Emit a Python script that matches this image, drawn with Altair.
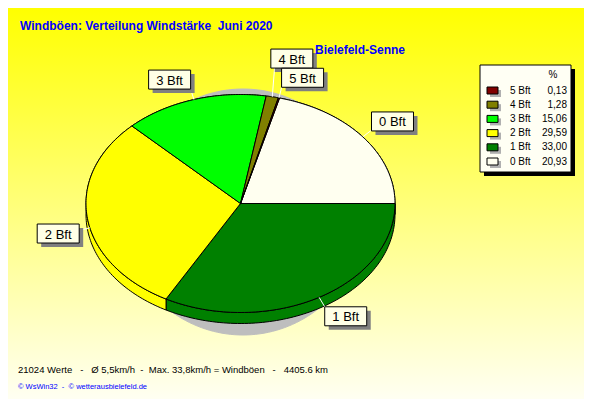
import altair as alt
import pandas as pd

# ---------------- data ----------------
categories = ["0 Bft", "1 Bft", "2 Bft", "3 Bft", "4 Bft", "5 Bft"]
percent = [20.93, 33.00, 29.59, 15.06, 1.28, 0.13]
colors = ["#FFFFF0", "#008000", "#FFFF00", "#00FF00", "#808000", "#800000"]

title_text = "Windböen: Verteilung Windstärke  Juni 2020"
station_text = "Bielefeld-Senne"
legend_header = "%"
footer_text = "21024 Werte   -   Ø 5,5km/h  -  Max. 33,8km/h = Windböen   -   4405.6 km"
credit_text = "© WsWin32  -  © wetterausbielefeld.de"

NB = "\u00a0"


def keep_spaces(s):
    return s.replace(" ", NB)


# ---------------- layout constants (image pixel coordinates) ----------------
OFF = 8
W, H = 576, 391
CX, CY, RX, RY, DEPTH = 240.5, 203.5, 154.5, 109.0, 11.0
N = 90
SH_CX, SH_CY, SH_RX, SH_RY = 243.0, 212.0, 122.0, 123.0
ARROW = 11
PUSH_Y = {"4 Bft": 18}          # label lifted to avoid overlapping
ANGLE_ADJ = {"2 Bft": -5}       # degrees
BW, BH = 42, 19
LEG_Y0, LEG_DY = 90.5, 14.2
FONT = "Liberation Sans"

df = pd.DataFrame({
    "cat": categories,
    "pct": percent,
    "col": colors,
    "ord": [(i - 1) % len(categories) for i in range(len(categories))],
    "row": [len(categories) - 1 - i for i in range(len(categories))],
    "lab": [f"{p:.2f}".replace(".", ",") for p in percent],
})

xs = alt.Scale(domain=[OFF, OFF + W], nice=False, zero=False)
ys = alt.Scale(domain=[OFF, OFF + H], nice=False, zero=False, reverse=True)


def X(f):
    return alt.X(f, type="quantitative", scale=xs, axis=None)


def Y(f):
    return alt.Y(f, type="quantitative", scale=ys, axis=None)


def lookup_expr(d):
    if not d:
        return "0"
    return " + ".join(f"(datum.cat == '{c}' ? {v} : 0)" for c, v in d.items())


one = pd.DataFrame({"_": [0]})

# background gradient
bg = alt.Chart(one).mark_rect(
    color=alt.Gradient(
        gradient="linear",
        stops=[alt.GradientStop(color="#FFFF00", offset=0),
               alt.GradientStop(color="#FFFFF2", offset=1)],
        x1=0, x2=0, y1=0, y2=1,
    )
).encode(x=alt.value(0), x2=alt.value(W), y=alt.value(0), y2=alt.value(H))

# shadow ellipse
M = 180
shadow = alt.Chart(alt.sequence(0, M + 1, as_="k")).transform_calculate(
    ang=f"2*PI*datum.k/{M}",
    px=f"{SH_CX} + {SH_RX}*sin(datum.ang)",
    py=f"{SH_CY} - {SH_RY}*cos(datum.ang)",
).mark_line(fill="#BEBEBE", stroke="#BEBEBE", strokeWidth=1).encode(
    x=X("px"), y=Y("py"), order=alt.Order("k:Q")
)

slice_base = alt.Chart(df).transform_joinaggregate(
    total="sum(pct)"
).transform_window(
    cum="sum(pct)", sort=[alt.SortField("ord")], frame=[None, 0]
).transform_calculate(
    a0="(90 + 360*(datum.cum - datum.pct)/datum.total)*PI/180",
    a1="(90 + 360*datum.cum/datum.total)*PI/180",
)

# side walls (3D depth)
sides = slice_base.transform_calculate(
    k=f"sequence(0, {2 * N + 3})"
).transform_flatten(["k"]).transform_calculate(
    j=f"datum.k <= {N} ? datum.k : (datum.k <= {2 * N + 1} ? {2 * N + 1} - datum.k : 0)",
    lower=f"datum.k > {N} && datum.k <= {2 * N + 1}",
    ang=f"datum.a0 + (datum.a1 - datum.a0)*datum.j/{N}",
    px=f"{CX} + {RX}*sin(datum.ang)",
    py=f"{CY} - {RY}*cos(datum.ang) + (datum.lower ? {DEPTH} : 0)",
).mark_line(stroke="black", strokeWidth=1, strokeJoin="round").encode(
    x=X("px"), y=Y("py"), order=alt.Order("k:Q"),
    fill=alt.Fill("col:N", scale=None), detail="cat:N",
)

# top faces
tops = slice_base.transform_calculate(
    k=f"sequence(-1, {N + 2})"
).transform_flatten(["k"]).transform_calculate(
    t=f"clamp(datum.k, 0, {N})/{N}",
    ang="datum.a0 + (datum.a1 - datum.a0)*datum.t",
    inner=f"datum.k < 0 || datum.k > {N}",
    px=f"datum.inner ? {CX} : {CX} + {RX}*sin(datum.ang)",
    py=f"datum.inner ? {CY} : {CY} - {RY}*cos(datum.ang)",
).mark_line(stroke="black", strokeWidth=1, strokeJoin="round").encode(
    x=X("px"), y=Y("py"), order=alt.Order("k:Q"),
    fill=alt.Fill("col:N", scale=None), detail="cat:N",
)

labels = slice_base.transform_calculate(
    am=f"(datum.a0 + datum.a1)/2 + ({lookup_expr(ANGLE_ADJ)})*PI/180",
    s="sin(datum.am)",
    c="cos(datum.am)",
    ax=f"{CX} + {RX}*datum.s",
    ay=f"{CY} - {RY}*datum.c",
    lx=f"datum.ax + {ARROW}*datum.s",
    ly=f"datum.ay - {ARROW}*datum.c - ({lookup_expr(PUSH_Y)})",
    bx=f"datum.lx + {BW / 2}*clamp(4*datum.s, -1, 1)",
    by=f"datum.ly + {BH / 2}*clamp(-1.5*datum.c, -1, 1)",
    bx0=f"datum.bx - {BW / 2}",
    bx1=f"datum.bx + {BW / 2}",
    by0=f"datum.by - {BH / 2}",
    by1=f"datum.by + {BH / 2}",
    sx0="datum.bx0 + 4", sx1="datum.bx1 + 4",
    sy0="datum.by0 + 4", sy1="datum.by1 + 4",
)

leaders = labels.mark_rule(color="white", strokeWidth=1).encode(
    x=X("ax"), y=Y("ay"), x2=alt.X2("lx"), y2=alt.Y2("ly")
)
box_shadow = labels.mark_rect(color="#808080").encode(
    x=X("sx0"), x2=alt.X2("sx1"), y=Y("sy0"), y2=alt.Y2("sy1")
)
boxes = labels.mark_rect(fill="#FFFFE6", stroke="black", strokeWidth=1).encode(
    x=X("bx0"), x2=alt.X2("bx1"), y=Y("by0"), y2=alt.Y2("by1")
)
box_text = labels.mark_text(
    font=FONT, fontSize=13, color="black", align="center", baseline="middle", dy=1
).encode(x=X("bx"), y=Y("by"), text="cat:N")

# legend
LX0, LX1, LY0, LY1 = 480, 571, 65, 172
leg_shadow = alt.Chart(one).mark_rect(color="black").encode(
    x=alt.value(LX0 + 4 - OFF), x2=alt.value(LX1 + 4 - OFF),
    y=alt.value(LY0 + 4 - OFF), y2=alt.value(LY1 + 4 - OFF))
leg_box = alt.Chart(one).mark_rect(fill="#FFFFF4", stroke="black", strokeWidth=1).encode(
    x=alt.value(LX0 - OFF), x2=alt.value(LX1 - OFF),
    y=alt.value(LY0 - OFF), y2=alt.value(LY1 - OFF))
leg_head = alt.Chart(one).mark_text(
    text=legend_header, font=FONT, fontSize=10, align="center", baseline="middle", color="black"
).encode(x=alt.value(553 - OFF), y=alt.value(75 - OFF))

leg = alt.Chart(df).transform_calculate(
    yc=f"{LEG_Y0} + datum.row*{LEG_DY}",
    y0="datum.yc - 3.5", y1="datum.yc + 3.5",
    sy0="datum.y0 + 3", sy1="datum.y1 + 3",
    x0="487", x1="498", sx0="490", sx1="501",
    tx="510", vx="567",
)
leg_sym_sh = leg.mark_rect(color="#B0B0B0").encode(
    x=X("sx0"), x2=alt.X2("sx1"), y=Y("sy0"), y2=alt.Y2("sy1"))
leg_sym = leg.mark_rect(stroke="black", strokeWidth=1).encode(
    x=X("x0"), x2=alt.X2("x1"), y=Y("y0"), y2=alt.Y2("y1"),
    fill=alt.Fill("col:N", scale=None))
leg_lab = leg.mark_text(font=FONT, fontSize=10, align="left", baseline="middle", color="black").encode(
    x=X("tx"), y=Y("yc"), text="cat:N")
leg_val = leg.mark_text(font=FONT, fontSize=10, align="right", baseline="middle", color="black").encode(
    x=X("vx"), y=Y("yc"), text="lab:N")

# texts
title = alt.Chart(one).mark_text(
    text=keep_spaces(title_text), font=FONT, fontSize=12, fontWeight="bold",
    color="#0000FF", align="left", baseline="alphabetic"
).encode(x=alt.value(20 - OFF), y=alt.value(29.5 - OFF))
station = alt.Chart(one).mark_text(
    text=keep_spaces(station_text), font=FONT, fontSize=12, fontWeight="bold",
    color="#0000FF", align="left", baseline="alphabetic"
).encode(x=alt.value(315 - OFF), y=alt.value(53.5 - OFF))
footer = alt.Chart(one).mark_text(
    text=keep_spaces(footer_text), font=FONT, fontSize=9.5,
    color="black", align="left", baseline="alphabetic"
).encode(x=alt.value(18 - OFF), y=alt.value(373 - OFF))
credit = alt.Chart(one).mark_text(
    text=keep_spaces(credit_text), font=FONT, fontSize=7.5,
    color="#0000FF", align="left", baseline="alphabetic"
).encode(x=alt.value(18 - OFF), y=alt.value(389 - OFF))

chart = alt.layer(
    bg, shadow, sides, tops, leaders, box_shadow, boxes, box_text,
    leg_shadow, leg_box, leg_head, leg_sym_sh, leg_sym, leg_lab, leg_val,
    title, station, footer, credit,
).properties(
    width=W, height=H, padding=0, autosize="none", background="#FFFFF0"
).configure_view(strokeWidth=0)

chart.save("out.html", embed_options={"renderer": "svg", "actions": False})
